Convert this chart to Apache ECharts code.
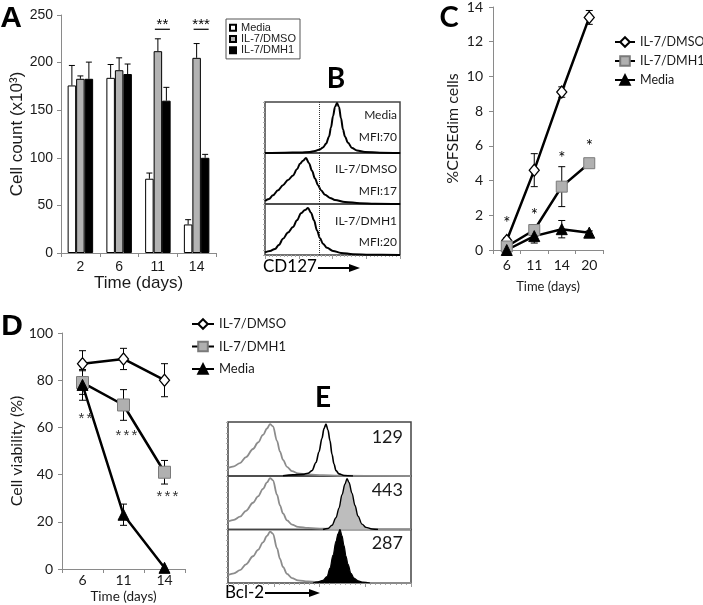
<!DOCTYPE html>
<html><head><meta charset="utf-8">
<script src="https://cdn.jsdelivr.net/npm/echarts@6/dist/echarts.min.js"></script>
<style>html,body{margin:0;padding:0;background:#fff}#c{width:703px;height:605px}</style>
</head><body><div id="c"></div><script>
// ---------- Panel A: cell counts ----------
const daysA = ['2', '6', '11', '14'];
const aMedia = [176, 184, 78, 30];
const aDMSO = [183, 192, 212, 205];
const aDMH1 = [183, 188, 160, 100];
const aMediaErr = [21, 14, 6, 5];
const aDMSOErr = [3, 13, 13, 15];
const aDMH1Err = [17.5, 10.5, 14, 3.6];
const aSigCat = [2, 3];
const aSigY = [235, 235];
const aSigText = ['**', '***'];
// ---------- Panel B: CD127 histograms ----------
const bLabels = [['Media', 'MFI:70'], ['IL-7/DMSO', 'MFI:17'], ['IL-7/DMH1', 'MFI:20']];
const bGate = 54;
const bMedia = [[0,0],[20,0.5],[35,1],[45,2],[50,4],[55,7],[58,11],[61,18],[64,32],[66,50],[68,72],[70,90],[72,98],[74,90],[76,68],[78,46],[80,32],[83,20],[87,10],[92,5],[100,2],[115,0.5],[135,0]];
const bDMSO = [[0,6],[4,10],[8,17],[13,27],[18,37],[23,47],[28,56],[32,68],[35,79],[38,85],[41,90],[44,80],[47,65],[50,50],[53,37],[56,27],[60,18],[65,12],[70,8],[80,4],[95,1.5],[110,0.5],[135,0]];
const bDMH1 = [[0,5],[5,8],[10,12],[14,20],[18,32],[23,44],[28,55],[32,68],[36,82],[40,88],[43,92],[46,83],[49,68],[52,48],[55,33],[58,22],[62,14],[68,8],[76,4],[88,1.5],[105,0.5],[135,0]];
// ---------- Panel C: %CFSEdim ----------
const daysC = ['6', '11', '14', '20'];
const cDMSO = [0.55, 4.6, 9.1, 13.4];
const cDMH1 = [0.2, 1.15, 3.65, 5.0];
const cMedia = [0.0, 0.8, 1.2, 1.0];
const cDMSOErr = [0.15, 0.95, 0.3, 0.4];
const cDMH1Err = [0.1, 0.3, 1.15, 0.1];
const cMediaErr = [0.05, 0.4, 0.5, 0.1];
const cStarY = [1.66, 2.1, 5.4, 6.06];
// ---------- Panel D: viability ----------
const daysD = ['6', '11', '14'];
const dDMSO = [87, 89, 80];
const dDMH1 = [79, 69.5, 41];
const dMedia = [78, 23, 0.5];
const dDMSOErr = [5.5, 4.5, 7];
const dDMH1Err = [5, 6.5, 5];
const dMediaErr = [6.5, 4.5, 0];
const dStarY = [65, 57.7, 31.8];
const dStarText = ['**', '***', '***'];
// ---------- Panel E: Bcl-2 histograms ----------
const eLabels = ['129', '443', '287'];
const eIso = [[0,15],[6,18],[12,24],[18,35],[25,50],[30,62],[35,76],[39,88],[42,96],[45,92],[49,65],[52,45],[55,30],[59,17],[64,9],[70,5],[80,3],[95,1.5],[110,0.5],[183,0]];
const eMedia = [[55,0.5],[65,2],[75,3],[80,5],[84,10],[88,25],[91,45],[94,70],[96,88],[98,96],[100,85],[102,65],[104,40],[106,22],[108,10],[111,4],[116,1],[125,0]];
const eDMSO = [[95,0],[100,2],[104,8],[108,22],[111,40],[114,65],[117,85],[119,95],[121,88],[124,68],[127,45],[130,25],[134,10],[138,4],[144,1],[150,0]];
const eDMH1 = [[85,0],[90,2],[95,5],[99,12],[102,28],[105,52],[108,78],[110,92],[112,100],[114,88],[116,70],[118,50],[120,35],[123,18],[126,9],[130,4],[135,1.5],[142,0]];

const ARIAL = '"Liberation Sans", Arial, sans-serif';
const CAL = 'Lato, "Open Sans", sans-serif';
const AX = '#8a8a8a';
const GRAYFILL = '#b3b3b3';

const chart = echarts.init(document.getElementById('c'), null, {renderer: 'canvas'});

function catAxis(gi, data, font, fs, margin, name, nameGap, nfs) {
  return {type: 'category', gridIndex: gi, data: data, boundaryGap: true,
    axisLine: {lineStyle: {color: AX, width: 1}},
    axisTick: {show: true, length: 4, lineStyle: {color: AX}},
    axisLabel: {color: '#1a1a1a', fontFamily: font, fontSize: fs, margin: margin},
    name: name, nameLocation: 'middle', nameGap: nameGap,
    nameTextStyle: {color: '#1a1a1a', fontFamily: font, fontSize: nfs},
    splitLine: {show: false}};
}
function valAxis(gi, min, max, interval, font, fs, margin, name, nameGap, nfs) {
  return {type: 'value', gridIndex: gi, min: min, max: max, interval: interval,
    axisLine: {show: true, lineStyle: {color: AX, width: 1}},
    axisTick: {show: true, length: 4, lineStyle: {color: AX}},
    axisLabel: {color: '#1a1a1a', fontFamily: font, fontSize: fs, margin: margin},
    name: name, nameLocation: 'middle', nameGap: nameGap,
    nameTextStyle: {color: '#1a1a1a', fontFamily: font, fontSize: nfs},
    splitLine: {show: false}};
}
function histX(gi, max, showTicks) {
  return {type: 'value', gridIndex: gi, min: 0, max: max, interval: max / 4,
    axisLine: {show: false}, axisLabel: {show: false}, splitLine: {show: false},
    axisTick: {show: showTicks, length: 4, lineStyle: {color: '#999'}},
    minorTick: {show: showTicks, splitNumber: 9, length: 2, lineStyle: {color: '#aaa'}}};
}
function histY(gi) {
  return {type: 'value', gridIndex: gi, min: 0, max: 100, interval: 10,
    axisLine: {show: false}, axisLabel: {show: false}, splitLine: {show: false},
    axisTick: {show: true, length: 2, lineStyle: {color: '#aaa'}}};
}

function errBars(axi, vals, errs, offset, capW, upOnly, z) {
  const data = vals.map((v, i) => [i, v, errs[i], upOnly ? 0 : errs[i]]);
  return {type: 'custom', xAxisIndex: axi, yAxisIndex: axi, z: z, silent: true, data: data,
    renderItem: function (p, api) {
      const i = api.value(0), v = api.value(1), up = api.value(2), dn = api.value(3);
      const t = api.coord([i, v + up]), b = api.coord([i, v - dn]);
      const x = t[0] + offset;
      const st = {stroke: '#000', lineWidth: 1};
      const ch = [{type: 'line', shape: {x1: x, y1: t[1], x2: x, y2: b[1]}, style: st}];
      if (up > 0) ch.push({type: 'line', shape: {x1: x - capW, y1: t[1], x2: x + capW, y2: t[1]}, style: st});
      if (dn > 0) ch.push({type: 'line', shape: {x1: x - capW, y1: b[1], x2: x + capW, y2: b[1]}, style: st});
      return {type: 'group', children: ch};
    }};
}
function starText(axi, cats, ys, texts, font, color, dx, dy, spacing) {
  const data = ys.map((y, i) => [cats[i], y]);
  return {type: 'custom', xAxisIndex: axi, yAxisIndex: axi, z: 5, silent: true, data: data,
    renderItem: function (p, api) {
      const c = api.coord([api.value(0), api.value(1)]);
      const t = texts[p.dataIndex];
      const n = t.length;
      const ch = [];
      for (let k = 0; k < n; k++) {
        ch.push({type: 'text', x: c[0] + dx + (k - (n - 1) / 2) * spacing, y: c[1] + dy,
          style: {text: t[k], font: font, fill: color, align: 'center', verticalAlign: 'middle'}});
      }
      return {type: 'group', children: ch};
    }};
}

const nameMap = n => n.split(':').slice(1).join(':');

// grid indices: 0 A, 1 C, 2 D, 3-5 B rows, 6-8 E rows
const grids = [
  {left: 61, top: 15, width: 155, height: 238},
  {left: 493, top: 5, width: 110, height: 245},
  {left: 62, top: 333, width: 123, height: 236},
  {left: 265, top: 102, width: 135, height: 51, show: true, borderColor: '#444', borderWidth: 1.5},
  {left: 265, top: 153, width: 135, height: 51, show: true, borderColor: '#444', borderWidth: 1.5},
  {left: 265, top: 204, width: 135, height: 51, show: true, borderColor: '#444', borderWidth: 1.5},
  {left: 228, top: 422, width: 183, height: 54, show: true, borderColor: '#444', borderWidth: 1.5},
  {left: 228, top: 476, width: 183, height: 53.5, show: true, borderColor: '#444', borderWidth: 1.5},
  {left: 228, top: 529.5, width: 183, height: 53.5, show: true, borderColor: '#444', borderWidth: 1.5}
];

const xAxes = [
  catAxis(0, daysA, ARIAL, 14, 7, 'Time (days)', 17, 17),
  catAxis(1, daysC, CAL, 14, 8, 'Time (days)', 30, 13),
  catAxis(2, daysD, CAL, 14, 4, 'Time (days)', 21, 13.5),
  histX(3, 135, false), histX(4, 135, false), histX(5, 135, true),
  histX(6, 183, false), histX(7, 183, false), histX(8, 183, true)
];
const yAxes = [
  valAxis(0, 0, 250, 50, ARIAL, 14, 8, 'Cell count (x10\u00B3)', 29, 17),
  valAxis(1, 0, 14, 2, CAL, 14, 10, '%CFSEdim cells', 32, 16),
  valAxis(2, 0, 100, 20, CAL, 14, 9, 'Cell viability (%)', 22, 16),
  histY(3), histY(4), histY(5), histY(6), histY(7), histY(8)
];

const BW = 8.5;
const lineBase = {type: 'line', z: 3, lineStyle: {color: '#000', width: 2.5}, itemStyle: {color: '#000'}, animation: false};
function diamond(name, axi, data, size) {
  return Object.assign({}, lineBase, {name: name, xAxisIndex: axi, yAxisIndex: axi, data: data,
    symbol: 'diamond', symbolSize: size, itemStyle: {color: '#fff', borderColor: '#000', borderWidth: 1.3}});
}
function square(name, axi, data, size) {
  return Object.assign({}, lineBase, {name: name, xAxisIndex: axi, yAxisIndex: axi, data: data,
    symbol: 'rect', symbolSize: size, itemStyle: {color: '#b0b0b0', borderColor: '#7a7a7a', borderWidth: 1}});
}
function triangle(name, axi, data, size) {
  return Object.assign({}, lineBase, {name: name, xAxisIndex: axi, yAxisIndex: axi, data: data,
    symbol: 'triangle', symbolSize: size, itemStyle: {color: '#000', borderColor: '#000', borderWidth: 1}});
}
function hist(gi, data, color, fill, lw, z, gate) {
  const s = {type: 'line', xAxisIndex: gi, yAxisIndex: gi, data: data, smooth: 0.35, smoothMonotone: 'x',
    symbol: 'none', z: z, silent: true, lineStyle: {color: color, width: lw}};
  if (fill) s.areaStyle = {color: fill, opacity: 1};
  if (gate != null) s.markLine = {silent: true, symbol: 'none', label: {show: false},
    lineStyle: {type: 'dotted', color: '#333', width: 1}, data: [{xAxis: gate}]};
  return s;
}

const series = [
  // A bars
  {type: 'bar', name: 'A:Media', xAxisIndex: 0, yAxisIndex: 0, data: aMedia, barWidth: BW, barGap: '0%',
    itemStyle: {color: '#fff', borderColor: '#000', borderWidth: 1}},
  {type: 'bar', name: 'A:IL-7/DMSO', xAxisIndex: 0, yAxisIndex: 0, data: aDMSO, barWidth: BW, barGap: '0%',
    itemStyle: {color: GRAYFILL, borderColor: '#000', borderWidth: 1}},
  {type: 'bar', name: 'A:IL-7/DMH1', xAxisIndex: 0, yAxisIndex: 0, data: aDMH1, barWidth: BW, barGap: '0%',
    itemStyle: {color: '#000', borderColor: '#000', borderWidth: 1}},
  errBars(0, aMedia, aMediaErr, -BW, 3, true, 4),
  errBars(0, aDMSO, aDMSOErr, 0, 3, true, 4),
  errBars(0, aDMH1, aDMH1Err, BW, 3, true, 4),
  {type: 'custom', xAxisIndex: 0, yAxisIndex: 0, z: 5, silent: true,
    data: aSigY.map((y, i) => [aSigCat[i], y]),
    renderItem: function (p, api) {
      const c = api.coord([api.value(0), api.value(1)]);
      return {type: 'group', children: [
        {type: 'line', shape: {x1: c[0] - 3, y1: c[1], x2: c[0] + 12, y2: c[1]}, style: {stroke: '#000', lineWidth: 1.2}},
        {type: 'text', x: c[0] + 4.5, y: c[1] + 3, style: {text: aSigText[p.dataIndex], font: '15px ' + ARIAL, fill: '#000', align: 'center', verticalAlign: 'bottom'}}
      ]};
    }},
  // C lines
  errBars(1, cDMSO, cDMSOErr, 0, 3.5, false, 2),
  errBars(1, cDMH1, cDMH1Err, 0, 3.5, false, 2),
  errBars(1, cMedia, cMediaErr, 0, 3.5, false, 2),
  diamond('C:IL-7/DMSO', 1, cDMSO, [10, 12]),
  square('C:IL-7/DMH1', 1, cDMH1, 11),
  triangle('C:Media', 1, cMedia, 11),
  starText(1, [0, 1, 2, 3], cStarY, ['*', '*', '*', '*'], '17px ' + CAL, '#000', 0, 2, 0),
  // D lines
  errBars(2, dDMSO, dDMSOErr, 0, 3.5, false, 2),
  errBars(2, dDMH1, dDMH1Err, 0, 3.5, false, 2),
  errBars(2, dMedia, dMediaErr, 0, 3.5, false, 2),
  diamond('D:IL-7/DMSO', 2, dDMSO, [10, 12]),
  square('D:IL-7/DMH1', 2, dDMH1, 12),
  triangle('D:Media', 2, dMedia, 11),
  starText(2, [0, 1, 2], dStarY, dStarText, '15px ' + ARIAL, '#333', 3, 3, 8),
  // B histograms
  hist(3, bMedia, '#000', null, 2, 3, bGate),
  hist(4, bDMSO, '#000', null, 2, 3, bGate),
  hist(5, bDMH1, '#000', null, 2, 3, bGate),
  // E histograms
  hist(6, eIso, '#8c8c8c', null, 1.8, 3, null),
  hist(7, eIso, '#8c8c8c', null, 1.8, 3, null),
  hist(8, eIso, '#8c8c8c', null, 1.8, 3, null),
  hist(6, eMedia, '#000', null, 1.6, 4, null),
  hist(7, eDMSO, '#000', '#bdbdbd', 1.4, 4, null),
  hist(8, eDMH1, '#000', '#000', 1.2, 4, null)
];

const legends = [
  {data: ['A:Media', 'A:IL-7/DMSO', 'A:IL-7/DMH1'], orient: 'vertical', left: 226, top: 19,
    padding: [3, 4, 3, 3], borderColor: '#555', borderWidth: 1, itemWidth: 6, itemHeight: 6, itemGap: 0,
    icon: 'rect', formatter: nameMap, selectedMode: false,
    textStyle: {fontFamily: ARIAL, fontSize: 11, color: '#222', lineHeight: 11.3}},
  {data: ['C:IL-7/DMSO', 'C:IL-7/DMH1', 'C:Media'], orient: 'vertical', left: 614, top: 35,
    padding: 0, itemWidth: 20, itemHeight: 12, itemGap: 5, formatter: nameMap, selectedMode: false,
    textStyle: {fontFamily: CAL, fontSize: 12.5, color: '#1a1a1a', lineHeight: 14}},
  {data: ['D:IL-7/DMSO', 'D:IL-7/DMH1', 'D:Media'], orient: 'vertical', left: 191, top: 317,
    padding: 0, itemWidth: 22, itemHeight: 12, itemGap: 8.5, formatter: nameMap, selectedMode: false,
    textStyle: {fontFamily: CAL, fontSize: 13, color: '#1a1a1a', lineHeight: 14}}
];

function txt(x, y, t, font, align, color) {
  return {type: 'text', x: x, y: y, silent: true,
    style: {text: t, font: font, fill: color || '#000', align: align || 'center', verticalAlign: 'middle'}};
}
function arrow(x1, x2, y) {
  return {type: 'group', silent: true, children: [
    {type: 'line', shape: {x1: x1, y1: y, x2: x2 - 6, y2: y}, style: {stroke: '#000', lineWidth: 2}},
    {type: 'polygon', shape: {points: [[x2 - 11, y - 4], [x2, y], [x2 - 11, y + 4]]}, style: {fill: '#000'}}
  ]};
}
const bRowY = [[115, 137], [169, 191], [221, 242]];
const eRowY = [437, 490, 543];
const graphics = [
  txt(11, 19, 'A', 'bold 30px ' + ARIAL),
  txt(336, 79, 'B', 'bold 28px ' + CAL),
  txt(449, 18, 'C', 'bold 29px ' + CAL),
  txt(12, 327, 'D', 'bold 30px ' + ARIAL),
  txt(323, 398, 'E', 'bold 28px ' + CAL),
  txt(263, 267, 'CD127', '17px ' + CAL, 'left'),
  arrow(318, 360, 268),
  txt(225, 593, 'Bcl-2', '17px ' + CAL, 'left'),
  arrow(265, 320, 593)
];
bLabels.forEach((l, i) => {
  graphics.push(txt(397, bRowY[i][0], l[0], '12px ' + CAL, 'right', '#1a1a1a'));
  graphics.push(txt(397, bRowY[i][1], l[1], '12px ' + CAL, 'right', '#1a1a1a'));
});
eLabels.forEach((l, i) => graphics.push(txt(403, eRowY[i], l, '18px ' + CAL, 'right', '#1a1a1a')));

chart.setOption({
  animation: false,
  backgroundColor: '#fff',
  grid: grids, xAxis: xAxes, yAxis: yAxes, series: series, legend: legends,
  graphic: {elements: graphics}
});
</script></body></html>
